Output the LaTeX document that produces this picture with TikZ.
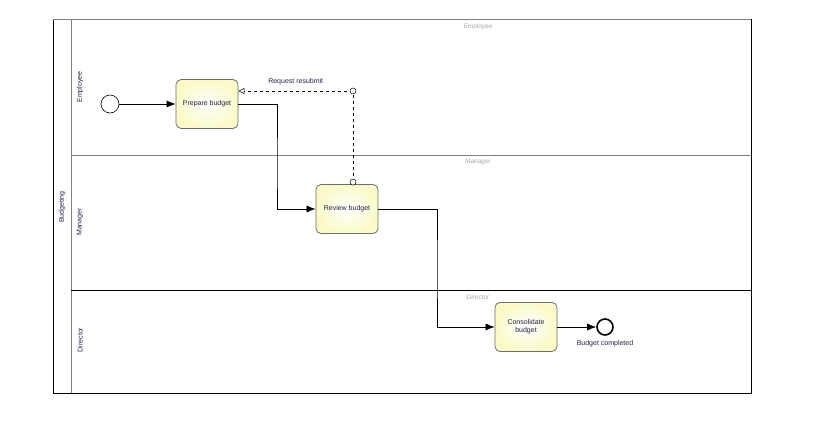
\documentclass[tikz,border=0pt]{standalone}
\usepackage{fontspec}
\setmainfont{Liberation Sans}
\usetikzlibrary{arrows.meta,positioning}
\definecolor{taskfill}{HTML}{FAFAC8}
\definecolor{taskline}{HTML}{6E6E6E}
\definecolor{labelink}{HTML}{22224A}
\definecolor{laneink}{HTML}{A8A8A8}
\begin{document}
\begin{tikzpicture}[x=1pt, y=-1pt,
        every node/.style={font=\fontsize{7}{8}\selectfont, text=labelink},
        task/.style={draw=taskline, line width=0.8pt, rounded corners=5pt,
            inner color=white, outer color=taskfill,
            minimum width=62pt, minimum height=49pt, align=center},
        flow/.style={-{Latex[length=9pt,width=7pt]}, line width=0.7pt},
        msg/.style={dashed, line width=0.6pt, -{Triangle[open,length=6pt,width=6pt]}},
        lanetitle/.style={font=\itshape\fontsize{6.5}{7.5}\selectfont, text=laneink}]
        \useasboundingbox (0,0) rectangle (821,434);

        % pool und lanes
        \draw[line width=0.6pt] (53,19) rectangle (751,393);
        \draw[line width=0.6pt, gray] (53,19) -- (751,19);
        \draw[line width=0.6pt, gray] (71,19) -- (71,393);
        \draw[line width=0.6pt, gray] (71,155) -- (751,155);
        \draw[line width=0.6pt] (71,290) -- (751,290);

        % lane labels
        \node[rotate=90] (pool) at (62,207) {Budgeting};
        \node[rotate=90] (laneA) at (80,87) {Employee};
        \node[rotate=90] (laneB) at (80,222) {Manager};
        \node[rotate=90] (laneC) at (80,340) {Director};
        \node[lanetitle] (titleA) at (478,27) {Employee};
        \node[lanetitle] (titleB) at (478,162) {Manager};
        \node[lanetitle] (titleC) at (478,297) {Director};

        % events und tasks
        \node[circle, draw, line width=0.6pt, minimum size=18pt, inner sep=0pt] (start) at (110,104) {};
        \node[task] (prepare) at (207,104) {Prepare budget};
        \node[task] (review) at (347,209) {Review budget};
        \node[task] (consol) at (526,327) {Consolidate\\budget};
        \node[circle, draw, line width=1.6pt, minimum size=16pt, inner sep=0pt] (finish) at (605,327) {};
        \node[below=1pt of finish] (finishlbl) {Budget completed};

        % sequence flows
        \draw[flow] (start) -- (prepare);
        \draw[flow] (prepare.east) -| (277,170) |- (review.west);
        \draw[flow] (review.east) -| (437,270) |- (consol.west);
        \draw[flow] (consol) -- (finish);

        % message flow
        \coordinate (msgA) at ([yshift=2pt]review.north -| 353,0);
        \coordinate (msgB) at (353,91);
        \draw[dashed, line width=0.6pt] (msgA) -- (msgB);
        \draw[msg] (msgB) -- (prepare.east |- msgB) node[midway, above=2pt] (msglbl) {Request resubmit};
        \draw[fill=white, line width=0.5pt] (msgA) circle (3pt);
        \draw[fill=white, line width=0.5pt] (msgB) circle (3pt);

    \end{tikzpicture}
\end{document}
